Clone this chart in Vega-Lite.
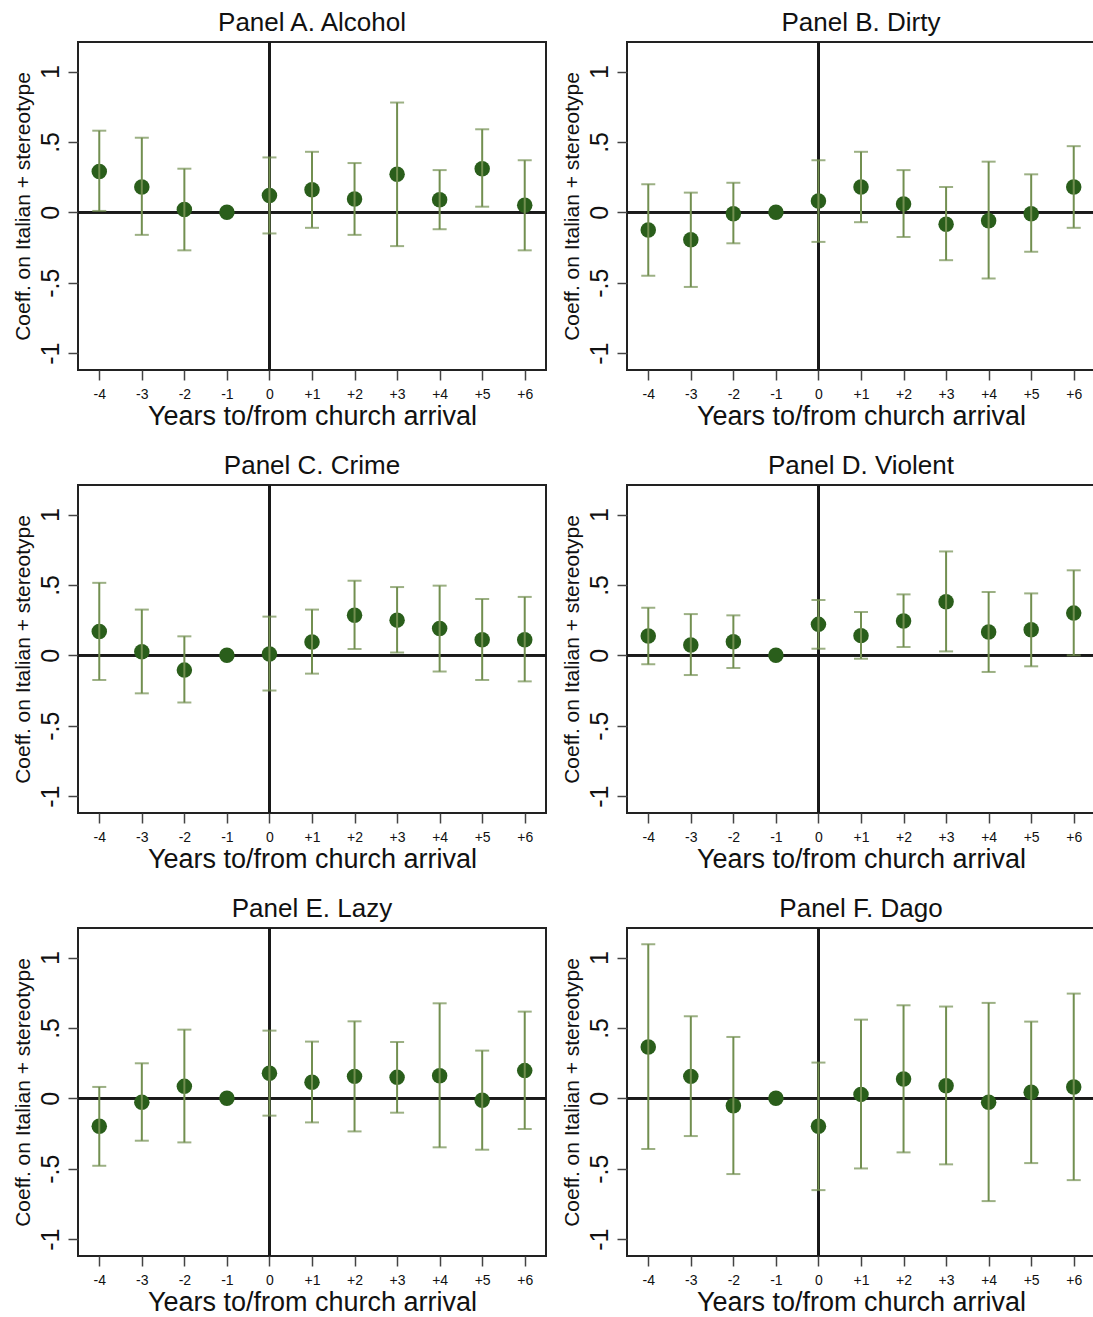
{
"$schema": "https://vega.github.io/schema/vega-lite/v6.json",
"padding": {"left": 11, "top": 9, "right": 0, "bottom": 0},
"background": "white",
"data": {"values": [
{"p":"A","t":-4,"b":0.29,"lo":0.01,"hi":0.58},
{"p":"A","t":-3,"b":0.18,"lo":-0.16,"hi":0.53},
{"p":"A","t":-2,"b":0.02,"lo":-0.27,"hi":0.31},
{"p":"A","t":-1,"b":0,"lo":null,"hi":null},
{"p":"A","t":0,"b":0.12,"lo":-0.15,"hi":0.39},
{"p":"A","t":1,"b":0.16,"lo":-0.11,"hi":0.43},
{"p":"A","t":2,"b":0.095,"lo":-0.16,"hi":0.35},
{"p":"A","t":3,"b":0.27,"lo":-0.24,"hi":0.78},
{"p":"A","t":4,"b":0.09,"lo":-0.12,"hi":0.30},
{"p":"A","t":5,"b":0.31,"lo":0.04,"hi":0.59},
{"p":"A","t":6,"b":0.05,"lo":-0.27,"hi":0.37},
{"p":"B","t":-4,"b":-0.125,"lo":-0.45,"hi":0.20},
{"p":"B","t":-3,"b":-0.195,"lo":-0.53,"hi":0.14},
{"p":"B","t":-2,"b":-0.01,"lo":-0.22,"hi":0.21},
{"p":"B","t":-1,"b":0,"lo":null,"hi":null},
{"p":"B","t":0,"b":0.08,"lo":-0.21,"hi":0.37},
{"p":"B","t":1,"b":0.18,"lo":-0.07,"hi":0.43},
{"p":"B","t":2,"b":0.06,"lo":-0.175,"hi":0.30},
{"p":"B","t":3,"b":-0.085,"lo":-0.34,"hi":0.18},
{"p":"B","t":4,"b":-0.06,"lo":-0.47,"hi":0.36},
{"p":"B","t":5,"b":-0.01,"lo":-0.28,"hi":0.27},
{"p":"B","t":6,"b":0.18,"lo":-0.11,"hi":0.47},
{"p":"C","t":-4,"b":0.17,"lo":-0.175,"hi":0.515},
{"p":"C","t":-3,"b":0.025,"lo":-0.27,"hi":0.325},
{"p":"C","t":-2,"b":-0.105,"lo":-0.335,"hi":0.135},
{"p":"C","t":-1,"b":0,"lo":null,"hi":null},
{"p":"C","t":0,"b":0.01,"lo":-0.25,"hi":0.275},
{"p":"C","t":1,"b":0.095,"lo":-0.13,"hi":0.325},
{"p":"C","t":2,"b":0.285,"lo":0.045,"hi":0.53},
{"p":"C","t":3,"b":0.25,"lo":0.02,"hi":0.485},
{"p":"C","t":4,"b":0.19,"lo":-0.115,"hi":0.495},
{"p":"C","t":5,"b":0.11,"lo":-0.175,"hi":0.40},
{"p":"C","t":6,"b":0.11,"lo":-0.185,"hi":0.415},
{"p":"D","t":-4,"b":0.137,"lo":-0.064,"hi":0.338},
{"p":"D","t":-3,"b":0.073,"lo":-0.14,"hi":0.293},
{"p":"D","t":-2,"b":0.097,"lo":-0.09,"hi":0.284},
{"p":"D","t":-1,"b":0,"lo":null,"hi":null},
{"p":"D","t":0,"b":0.22,"lo":0.047,"hi":0.393},
{"p":"D","t":1,"b":0.14,"lo":-0.024,"hi":0.308},
{"p":"D","t":2,"b":0.244,"lo":0.059,"hi":0.433},
{"p":"D","t":3,"b":0.381,"lo":0.028,"hi":0.738},
{"p":"D","t":4,"b":0.166,"lo":-0.118,"hi":0.45},
{"p":"D","t":5,"b":0.182,"lo":-0.078,"hi":0.44},
{"p":"D","t":6,"b":0.30,"lo":0.0,"hi":0.604},
{"p":"E","t":-4,"b":-0.199,"lo":-0.479,"hi":0.081},
{"p":"E","t":-3,"b":-0.028,"lo":-0.301,"hi":0.249},
{"p":"E","t":-2,"b":0.085,"lo":-0.313,"hi":0.488},
{"p":"E","t":-1,"b":0,"lo":null,"hi":null},
{"p":"E","t":0,"b":0.178,"lo":-0.123,"hi":0.481},
{"p":"E","t":1,"b":0.114,"lo":-0.171,"hi":0.403},
{"p":"E","t":2,"b":0.156,"lo":-0.235,"hi":0.547},
{"p":"E","t":3,"b":0.149,"lo":-0.102,"hi":0.40},
{"p":"E","t":4,"b":0.161,"lo":-0.348,"hi":0.675},
{"p":"E","t":5,"b":-0.014,"lo":-0.365,"hi":0.339},
{"p":"E","t":6,"b":0.197,"lo":-0.218,"hi":0.616},
{"p":"F","t":-4,"b":0.365,"lo":-0.36,"hi":1.095},
{"p":"F","t":-3,"b":0.156,"lo":-0.268,"hi":0.583},
{"p":"F","t":-2,"b":-0.052,"lo":-0.538,"hi":0.436},
{"p":"F","t":-1,"b":0,"lo":null,"hi":null},
{"p":"F","t":0,"b":-0.199,"lo":-0.652,"hi":0.254},
{"p":"F","t":1,"b":0.028,"lo":-0.498,"hi":0.559},
{"p":"F","t":2,"b":0.137,"lo":-0.384,"hi":0.661},
{"p":"F","t":3,"b":0.09,"lo":-0.469,"hi":0.652},
{"p":"F","t":4,"b":-0.028,"lo":-0.73,"hi":0.678},
{"p":"F","t":5,"b":0.043,"lo":-0.46,"hi":0.545},
{"p":"F","t":6,"b":0.081,"lo":-0.581,"hi":0.744}
]},
"columns": 2,
"spacing": {"row": 115, "column": 81},
"bounds": "flush",
"concat": [
{"title": "Panel A. Alcohol", "width": 468, "height": 328,
 "transform": [{"filter": "datum.p == 'A'"}],
 "layer": [
  {"mark": {"type": "rule", "color": "#1a1a1a", "strokeWidth": 2}, "encoding": {"y": {"datum": 0, "type": "quantitative", "scale": {"domain": [-1.12, 1.21], "nice": false, "zero": false}, "title": "Coeff. on Italian + stereotype", "axis": {"values": [-1,-0.5,0,0.5,1], "labelExpr": "datum.value == 0.5 ? '.5' : datum.value == -0.5 ? '-.5' : '' + datum.value"}}}},
  {"mark": {"type": "rule", "color": "#1a1a1a", "strokeWidth": 2}, "encoding": {"x": {"datum": 0, "type": "quantitative", "scale": {"domain": [-4.5, 6.5], "nice": false, "zero": false}, "title": "Years to/from church arrival", "axis": {"values": [-4,-3,-2,-1,0,1,2,3,4,5,6], "labelExpr": "datum.value > 0 ? '+' + datum.value : '' + datum.value"}}}},
  {"mark": {"type": "point", "filled": true, "size": 240, "color": "#2a5e1b", "opacity": 1}, "encoding": {"x": {"field": "t", "type": "quantitative", "title": "Years to/from church arrival"}, "y": {"field": "b", "type": "quantitative", "title": "Coeff. on Italian + stereotype"}}},
  {"mark": {"type": "rule", "color": "#728f50", "strokeWidth": 2}, "encoding": {"x": {"field": "t", "type": "quantitative", "title": "Years to/from church arrival"}, "y": {"field": "lo", "type": "quantitative", "title": "Coeff. on Italian + stereotype"}, "y2": {"field": "hi"}}},
  {"mark": {"type": "tick", "orient": "horizontal", "color": "#728f50", "size": 14, "thickness": 2}, "encoding": {"x": {"field": "t", "type": "quantitative", "title": "Years to/from church arrival"}, "y": {"field": "lo", "type": "quantitative", "title": "Coeff. on Italian + stereotype"}}},
  {"mark": {"type": "tick", "orient": "horizontal", "color": "#728f50", "size": 14, "thickness": 2}, "encoding": {"x": {"field": "t", "type": "quantitative", "title": "Years to/from church arrival"}, "y": {"field": "hi", "type": "quantitative", "title": "Coeff. on Italian + stereotype"}}}
 ]},
{"title": "Panel B. Dirty", "width": 468, "height": 328,
 "transform": [{"filter": "datum.p == 'B'"}],
 "layer": [
  {"mark": {"type": "rule", "color": "#1a1a1a", "strokeWidth": 2}, "encoding": {"y": {"datum": 0, "type": "quantitative", "scale": {"domain": [-1.12, 1.21], "nice": false, "zero": false}, "title": "Coeff. on Italian + stereotype", "axis": {"values": [-1,-0.5,0,0.5,1], "labelExpr": "datum.value == 0.5 ? '.5' : datum.value == -0.5 ? '-.5' : '' + datum.value"}}}},
  {"mark": {"type": "rule", "color": "#1a1a1a", "strokeWidth": 2}, "encoding": {"x": {"datum": 0, "type": "quantitative", "scale": {"domain": [-4.5, 6.5], "nice": false, "zero": false}, "title": "Years to/from church arrival", "axis": {"values": [-4,-3,-2,-1,0,1,2,3,4,5,6], "labelExpr": "datum.value > 0 ? '+' + datum.value : '' + datum.value"}}}},
  {"mark": {"type": "point", "filled": true, "size": 240, "color": "#2a5e1b", "opacity": 1}, "encoding": {"x": {"field": "t", "type": "quantitative", "title": "Years to/from church arrival"}, "y": {"field": "b", "type": "quantitative", "title": "Coeff. on Italian + stereotype"}}},
  {"mark": {"type": "rule", "color": "#728f50", "strokeWidth": 2}, "encoding": {"x": {"field": "t", "type": "quantitative", "title": "Years to/from church arrival"}, "y": {"field": "lo", "type": "quantitative", "title": "Coeff. on Italian + stereotype"}, "y2": {"field": "hi"}}},
  {"mark": {"type": "tick", "orient": "horizontal", "color": "#728f50", "size": 14, "thickness": 2}, "encoding": {"x": {"field": "t", "type": "quantitative", "title": "Years to/from church arrival"}, "y": {"field": "lo", "type": "quantitative", "title": "Coeff. on Italian + stereotype"}}},
  {"mark": {"type": "tick", "orient": "horizontal", "color": "#728f50", "size": 14, "thickness": 2}, "encoding": {"x": {"field": "t", "type": "quantitative", "title": "Years to/from church arrival"}, "y": {"field": "hi", "type": "quantitative", "title": "Coeff. on Italian + stereotype"}}}
 ]},
{"title": "Panel C. Crime", "width": 468, "height": 328,
 "transform": [{"filter": "datum.p == 'C'"}],
 "layer": [
  {"mark": {"type": "rule", "color": "#1a1a1a", "strokeWidth": 2}, "encoding": {"y": {"datum": 0, "type": "quantitative", "scale": {"domain": [-1.12, 1.21], "nice": false, "zero": false}, "title": "Coeff. on Italian + stereotype", "axis": {"values": [-1,-0.5,0,0.5,1], "labelExpr": "datum.value == 0.5 ? '.5' : datum.value == -0.5 ? '-.5' : '' + datum.value"}}}},
  {"mark": {"type": "rule", "color": "#1a1a1a", "strokeWidth": 2}, "encoding": {"x": {"datum": 0, "type": "quantitative", "scale": {"domain": [-4.5, 6.5], "nice": false, "zero": false}, "title": "Years to/from church arrival", "axis": {"values": [-4,-3,-2,-1,0,1,2,3,4,5,6], "labelExpr": "datum.value > 0 ? '+' + datum.value : '' + datum.value"}}}},
  {"mark": {"type": "point", "filled": true, "size": 240, "color": "#2a5e1b", "opacity": 1}, "encoding": {"x": {"field": "t", "type": "quantitative", "title": "Years to/from church arrival"}, "y": {"field": "b", "type": "quantitative", "title": "Coeff. on Italian + stereotype"}}},
  {"mark": {"type": "rule", "color": "#728f50", "strokeWidth": 2}, "encoding": {"x": {"field": "t", "type": "quantitative", "title": "Years to/from church arrival"}, "y": {"field": "lo", "type": "quantitative", "title": "Coeff. on Italian + stereotype"}, "y2": {"field": "hi"}}},
  {"mark": {"type": "tick", "orient": "horizontal", "color": "#728f50", "size": 14, "thickness": 2}, "encoding": {"x": {"field": "t", "type": "quantitative", "title": "Years to/from church arrival"}, "y": {"field": "lo", "type": "quantitative", "title": "Coeff. on Italian + stereotype"}}},
  {"mark": {"type": "tick", "orient": "horizontal", "color": "#728f50", "size": 14, "thickness": 2}, "encoding": {"x": {"field": "t", "type": "quantitative", "title": "Years to/from church arrival"}, "y": {"field": "hi", "type": "quantitative", "title": "Coeff. on Italian + stereotype"}}}
 ]},
{"title": "Panel D. Violent", "width": 468, "height": 328,
 "transform": [{"filter": "datum.p == 'D'"}],
 "layer": [
  {"mark": {"type": "rule", "color": "#1a1a1a", "strokeWidth": 2}, "encoding": {"y": {"datum": 0, "type": "quantitative", "scale": {"domain": [-1.12, 1.21], "nice": false, "zero": false}, "title": "Coeff. on Italian + stereotype", "axis": {"values": [-1,-0.5,0,0.5,1], "labelExpr": "datum.value == 0.5 ? '.5' : datum.value == -0.5 ? '-.5' : '' + datum.value"}}}},
  {"mark": {"type": "rule", "color": "#1a1a1a", "strokeWidth": 2}, "encoding": {"x": {"datum": 0, "type": "quantitative", "scale": {"domain": [-4.5, 6.5], "nice": false, "zero": false}, "title": "Years to/from church arrival", "axis": {"values": [-4,-3,-2,-1,0,1,2,3,4,5,6], "labelExpr": "datum.value > 0 ? '+' + datum.value : '' + datum.value"}}}},
  {"mark": {"type": "point", "filled": true, "size": 240, "color": "#2a5e1b", "opacity": 1}, "encoding": {"x": {"field": "t", "type": "quantitative", "title": "Years to/from church arrival"}, "y": {"field": "b", "type": "quantitative", "title": "Coeff. on Italian + stereotype"}}},
  {"mark": {"type": "rule", "color": "#728f50", "strokeWidth": 2}, "encoding": {"x": {"field": "t", "type": "quantitative", "title": "Years to/from church arrival"}, "y": {"field": "lo", "type": "quantitative", "title": "Coeff. on Italian + stereotype"}, "y2": {"field": "hi"}}},
  {"mark": {"type": "tick", "orient": "horizontal", "color": "#728f50", "size": 14, "thickness": 2}, "encoding": {"x": {"field": "t", "type": "quantitative", "title": "Years to/from church arrival"}, "y": {"field": "lo", "type": "quantitative", "title": "Coeff. on Italian + stereotype"}}},
  {"mark": {"type": "tick", "orient": "horizontal", "color": "#728f50", "size": 14, "thickness": 2}, "encoding": {"x": {"field": "t", "type": "quantitative", "title": "Years to/from church arrival"}, "y": {"field": "hi", "type": "quantitative", "title": "Coeff. on Italian + stereotype"}}}
 ]},
{"title": "Panel E. Lazy", "width": 468, "height": 328,
 "transform": [{"filter": "datum.p == 'E'"}],
 "layer": [
  {"mark": {"type": "rule", "color": "#1a1a1a", "strokeWidth": 2}, "encoding": {"y": {"datum": 0, "type": "quantitative", "scale": {"domain": [-1.12, 1.21], "nice": false, "zero": false}, "title": "Coeff. on Italian + stereotype", "axis": {"values": [-1,-0.5,0,0.5,1], "labelExpr": "datum.value == 0.5 ? '.5' : datum.value == -0.5 ? '-.5' : '' + datum.value"}}}},
  {"mark": {"type": "rule", "color": "#1a1a1a", "strokeWidth": 2}, "encoding": {"x": {"datum": 0, "type": "quantitative", "scale": {"domain": [-4.5, 6.5], "nice": false, "zero": false}, "title": "Years to/from church arrival", "axis": {"values": [-4,-3,-2,-1,0,1,2,3,4,5,6], "labelExpr": "datum.value > 0 ? '+' + datum.value : '' + datum.value"}}}},
  {"mark": {"type": "point", "filled": true, "size": 240, "color": "#2a5e1b", "opacity": 1}, "encoding": {"x": {"field": "t", "type": "quantitative", "title": "Years to/from church arrival"}, "y": {"field": "b", "type": "quantitative", "title": "Coeff. on Italian + stereotype"}}},
  {"mark": {"type": "rule", "color": "#728f50", "strokeWidth": 2}, "encoding": {"x": {"field": "t", "type": "quantitative", "title": "Years to/from church arrival"}, "y": {"field": "lo", "type": "quantitative", "title": "Coeff. on Italian + stereotype"}, "y2": {"field": "hi"}}},
  {"mark": {"type": "tick", "orient": "horizontal", "color": "#728f50", "size": 14, "thickness": 2}, "encoding": {"x": {"field": "t", "type": "quantitative", "title": "Years to/from church arrival"}, "y": {"field": "lo", "type": "quantitative", "title": "Coeff. on Italian + stereotype"}}},
  {"mark": {"type": "tick", "orient": "horizontal", "color": "#728f50", "size": 14, "thickness": 2}, "encoding": {"x": {"field": "t", "type": "quantitative", "title": "Years to/from church arrival"}, "y": {"field": "hi", "type": "quantitative", "title": "Coeff. on Italian + stereotype"}}}
 ]},
{"title": "Panel F. Dago", "width": 468, "height": 328,
 "transform": [{"filter": "datum.p == 'F'"}],
 "layer": [
  {"mark": {"type": "rule", "color": "#1a1a1a", "strokeWidth": 2}, "encoding": {"y": {"datum": 0, "type": "quantitative", "scale": {"domain": [-1.12, 1.21], "nice": false, "zero": false}, "title": "Coeff. on Italian + stereotype", "axis": {"values": [-1,-0.5,0,0.5,1], "labelExpr": "datum.value == 0.5 ? '.5' : datum.value == -0.5 ? '-.5' : '' + datum.value"}}}},
  {"mark": {"type": "rule", "color": "#1a1a1a", "strokeWidth": 2}, "encoding": {"x": {"datum": 0, "type": "quantitative", "scale": {"domain": [-4.5, 6.5], "nice": false, "zero": false}, "title": "Years to/from church arrival", "axis": {"values": [-4,-3,-2,-1,0,1,2,3,4,5,6], "labelExpr": "datum.value > 0 ? '+' + datum.value : '' + datum.value"}}}},
  {"mark": {"type": "point", "filled": true, "size": 240, "color": "#2a5e1b", "opacity": 1}, "encoding": {"x": {"field": "t", "type": "quantitative", "title": "Years to/from church arrival"}, "y": {"field": "b", "type": "quantitative", "title": "Coeff. on Italian + stereotype"}}},
  {"mark": {"type": "rule", "color": "#728f50", "strokeWidth": 2}, "encoding": {"x": {"field": "t", "type": "quantitative", "title": "Years to/from church arrival"}, "y": {"field": "lo", "type": "quantitative", "title": "Coeff. on Italian + stereotype"}, "y2": {"field": "hi"}}},
  {"mark": {"type": "tick", "orient": "horizontal", "color": "#728f50", "size": 14, "thickness": 2}, "encoding": {"x": {"field": "t", "type": "quantitative", "title": "Years to/from church arrival"}, "y": {"field": "lo", "type": "quantitative", "title": "Coeff. on Italian + stereotype"}}},
  {"mark": {"type": "tick", "orient": "horizontal", "color": "#728f50", "size": 14, "thickness": 2}, "encoding": {"x": {"field": "t", "type": "quantitative", "title": "Years to/from church arrival"}, "y": {"field": "hi", "type": "quantitative", "title": "Coeff. on Italian + stereotype"}}}
 ]}
],
"config": {
 "font": "Liberation Sans",
 "view": {"stroke": "#222", "strokeWidth": 2},
 "axis": {"grid": false, "domain": false, "tickColor": "#444", "tickWidth": 1.5, "labelColor": "#111", "titleColor": "#111", "titleFontWeight": "normal", "labelFont": "Liberation Sans", "titleFont": "Liberation Sans", "labelFlush": false, "labelOverlap": false},
 "axisX": {"tickSize": 10, "labelFontSize": 14, "labelPadding": 7, "titleFontSize": 27, "titlePadding": 2},
 "axisY": {"tickSize": 10, "labelFontSize": 25, "labelAngle": -90, "labelAlign": "center", "labelBaseline": "bottom", "labelPadding": 5, "titleFontSize": 21, "titlePadding": 5},
 "title": {"fontSize": 26, "fontWeight": "normal", "offset": 5, "color": "#111", "anchor": "middle", "font": "Liberation Sans"}
}
}
